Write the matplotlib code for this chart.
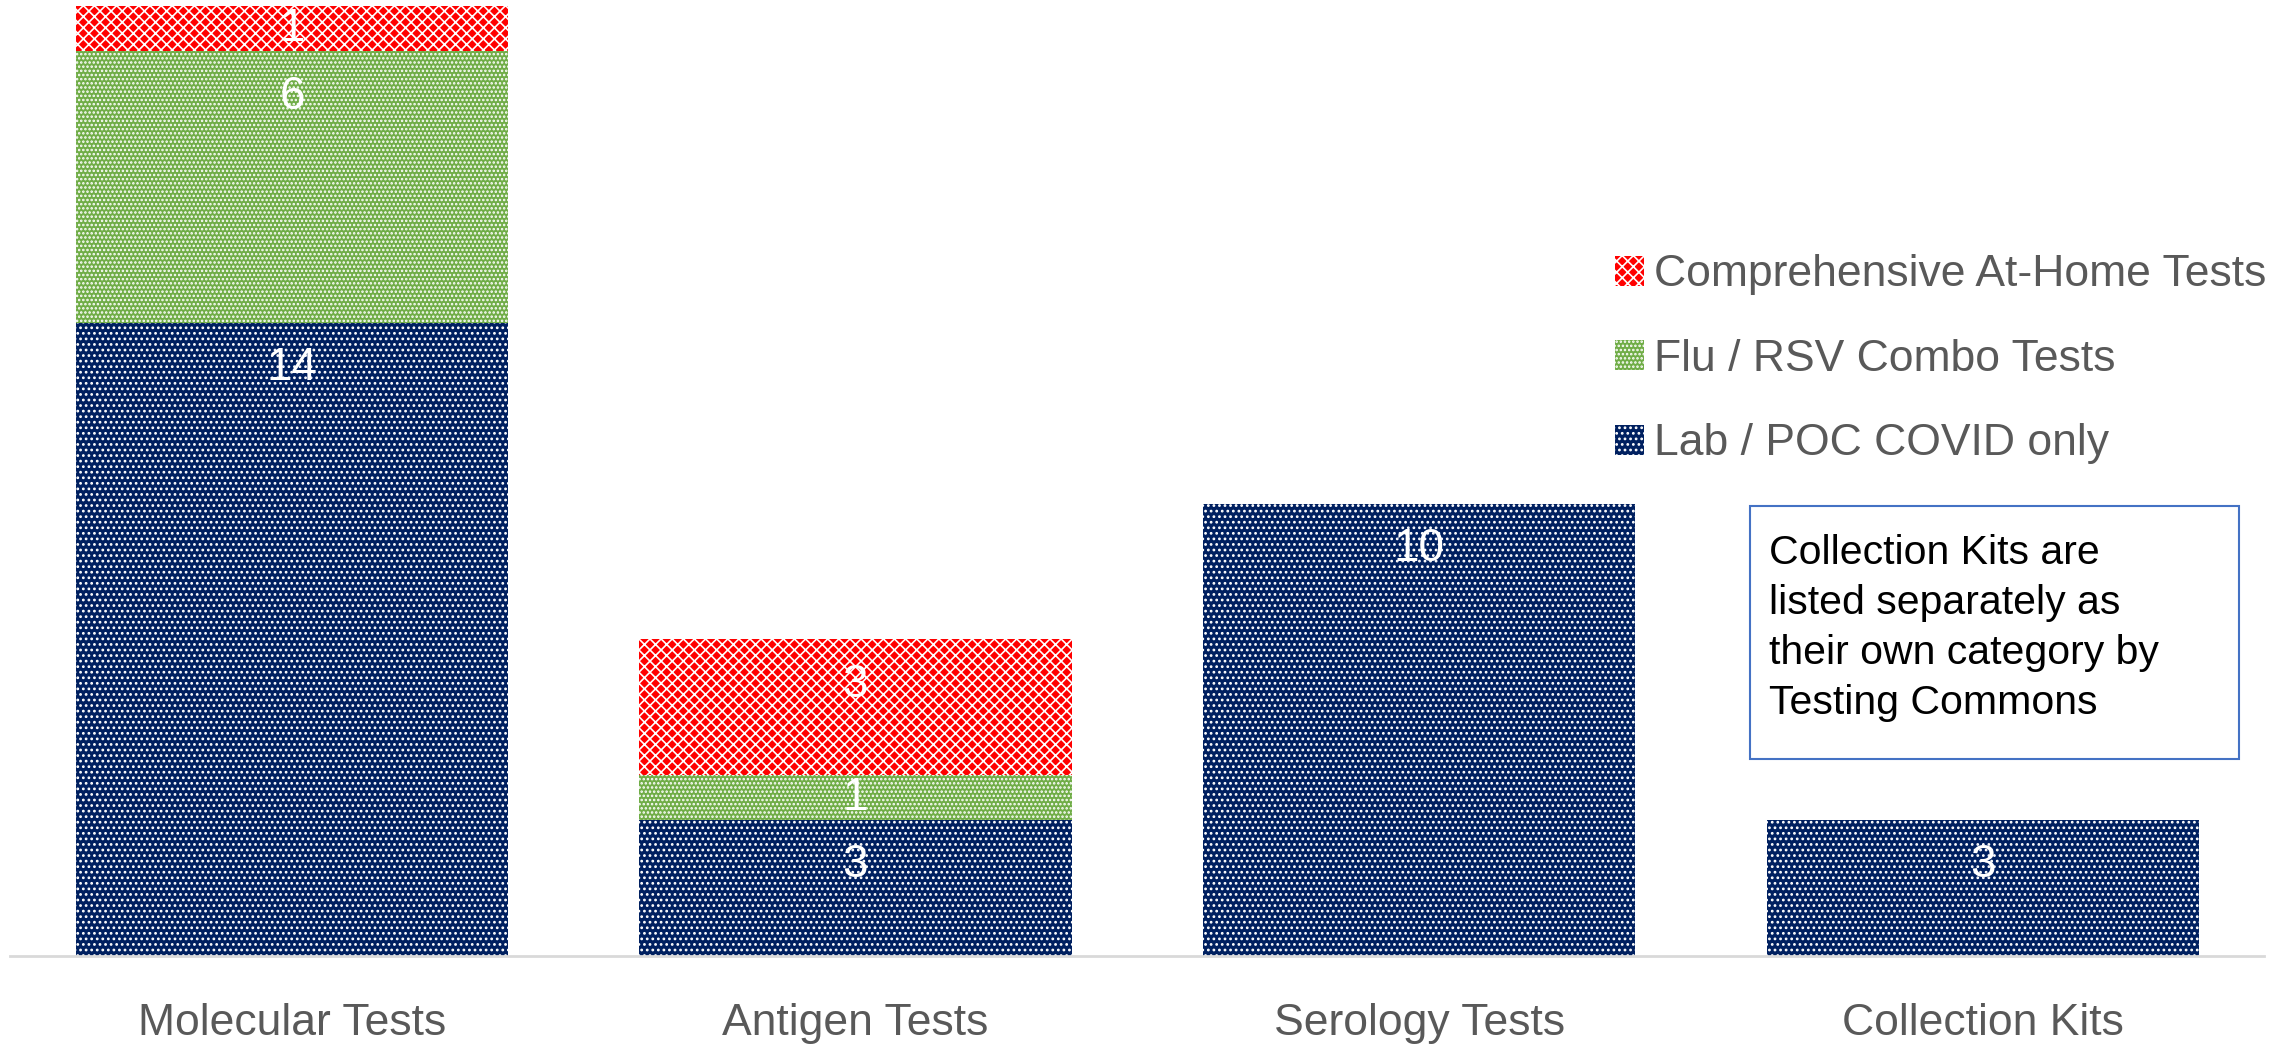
import numpy as np
import matplotlib
matplotlib.use("Agg")
import matplotlib.pyplot as plt
from matplotlib.patches import Rectangle

plt.rcParams['font.family'] = ['Liberation Sans', 'DejaVu Sans']
plt.rcParams['hatch.linewidth'] = 1.2

categories = ["Molecular Tests", "Antigen Tests", "Serology Tests", "Collection Kits"]
lab_poc = [14, 3, 10, 3]
flu_rsv = [6, 1, 0, 0]
at_home = [1, 3, 0, 0]

series = [
    ("Lab / POC COVID only", lab_poc, "#002060", "..."),
    ("Flu / RSV Combo Tests", flu_rsv, "#70AD47", "...."),
    ("Comprehensive At-Home Tests", at_home, "#FF0000", "xxx"),
]

fig = plt.figure(figsize=(22.92, 10.45), dpi=100)
ax = fig.add_axes([0.0044, 0.0852, 0.9836, 0.9090])

x = np.arange(len(categories))
bottom = np.zeros(len(categories))
handles = []
for name, vals, color, hatch in series:
    vals = np.array(vals, dtype=float)
    bars = ax.bar(x, vals, width=0.767, bottom=bottom, color=color,
                  edgecolor="white", linewidth=0, hatch=hatch, label=name)
    handles.append(bars)
    for xi, b, v in zip(x, bottom, vals):
        if v <= 0:
            continue
        top = b + v
        y = top - 1.0 if v >= 2 else b + v / 2
        ax.text(xi, y, "{:g}".format(v), ha="center", va="center",
                color="white", fontsize=33)
    bottom = bottom + vals

ax.set_xlim(-0.5, 3.5)
ax.set_ylim(0, 21)
ax.set_yticks([])
ax.set_xticks(x)
ax.set_xticklabels(categories, fontsize=32, color="#595959")
ax.tick_params(axis="x", length=0, pad=34)
for s in ["top", "left", "right"]:
    ax.spines[s].set_visible(False)
ax.spines["bottom"].set_color("#D9D9D9")
ax.spines["bottom"].set_linewidth(2)

leg = ax.legend(handles=handles[::-1], loc="upper left",
                bbox_to_anchor=(0.687, 0.795), bbox_transform=fig.transFigure,
                frameon=False, fontsize=32, handlelength=0.66, handleheight=0.66,
                handletextpad=0.22, labelspacing=0.98)
for t in leg.get_texts():
    t.set_color("#595959")

# note box
fig.patches.append(Rectangle((0.7635, 0.2737), 0.2134, 0.2421,
                             transform=fig.transFigure, facecolor="white",
                             edgecolor="#4472C4", linewidth=1.5))
fig.text(0.7718, 0.399,
         "Collection Kits are\nlisted separately as\ntheir own category by\nTesting Commons",
         fontsize=29.5, color="black", ha="left", va="center", linespacing=1.4)

fig.savefig("out.png", dpi=100)
